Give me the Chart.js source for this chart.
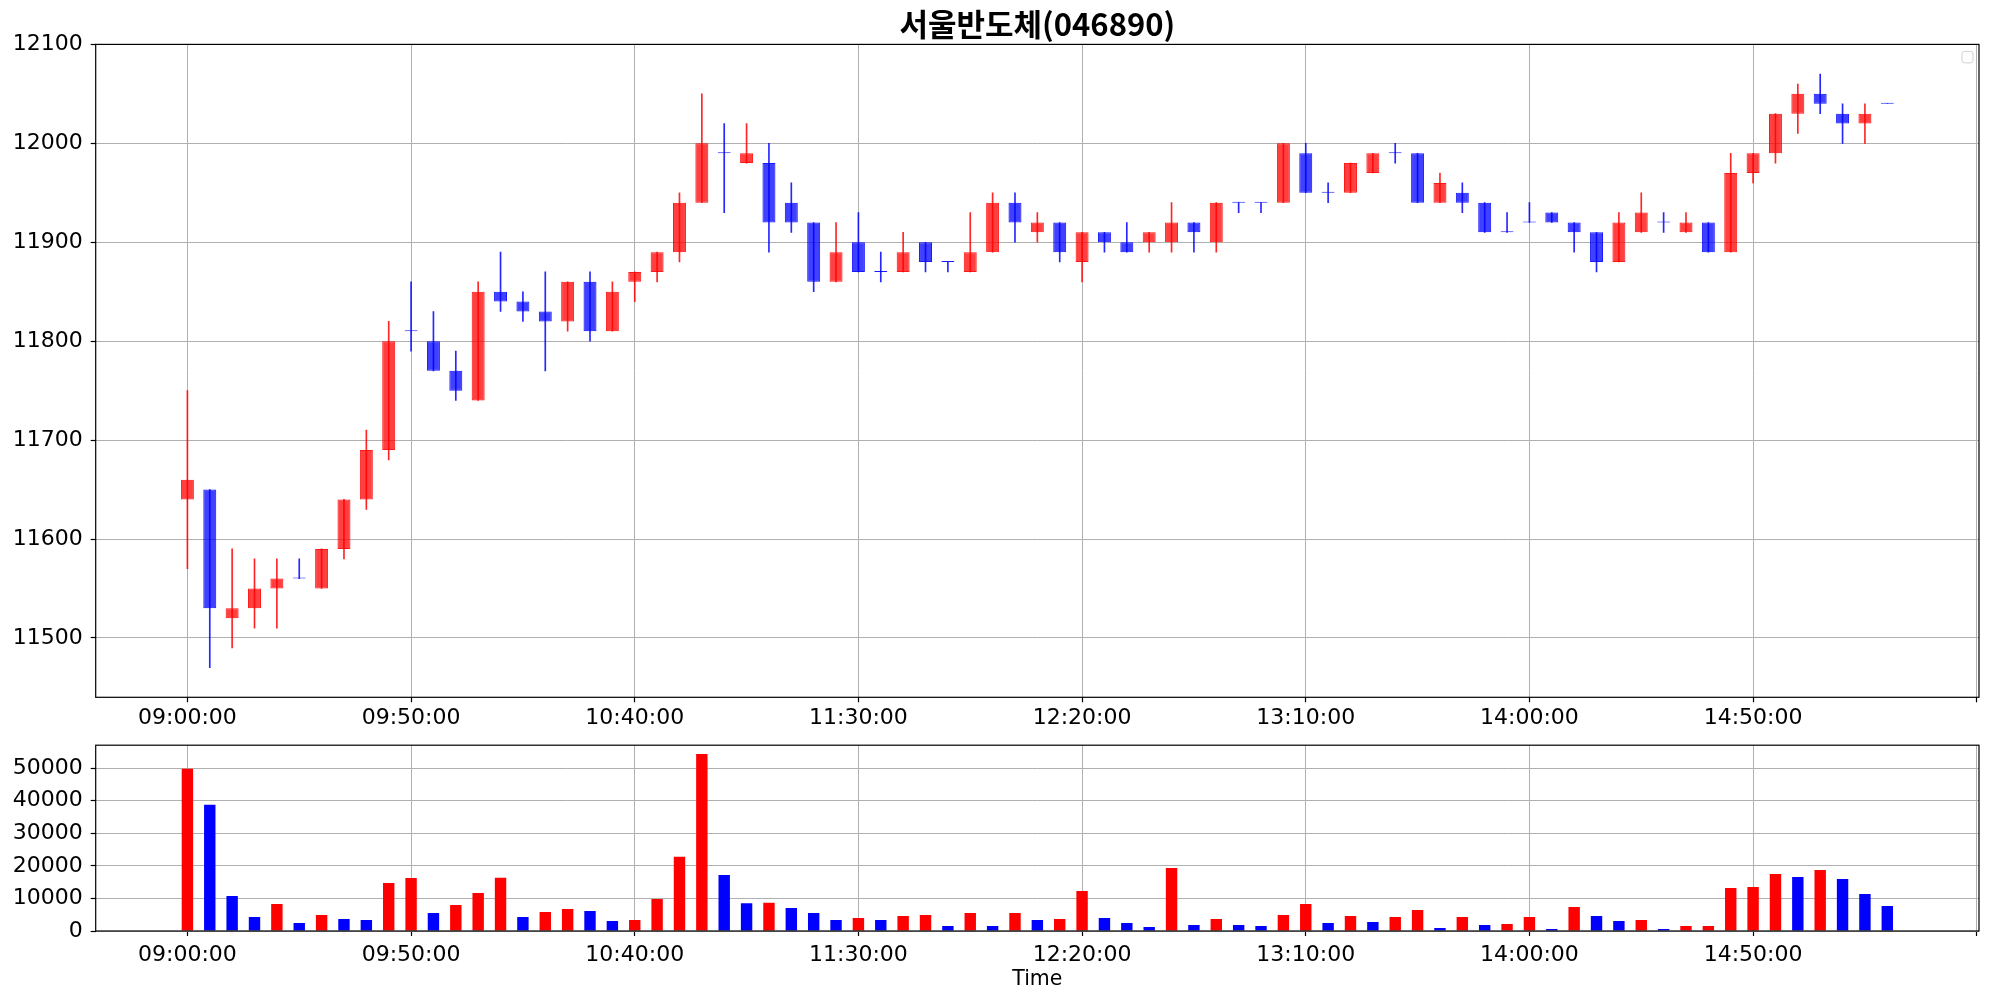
<!DOCTYPE html>
<html>
<head>
<meta charset="utf-8">
<script src="https://cdn.jsdelivr.net/npm/chart.js@4.4.0/dist/chart.umd.min.js"></script>
<style>
	html, body { margin: 0; padding: 0; background: #fff; }
	#wrap { position: relative; width: 1989px; height: 999px; }
	canvas { position: absolute; left: 0; }
	#priceChart { top: 0; }
	#volumeChart { top: 724px; }
</style>
</head>
<body>
<div id="wrap">
	<canvas id="priceChart" width="1989" height="730"></canvas>
	<canvas id="volumeChart" width="1989" height="275"></canvas>
</div>
<script>
// 5분봉 데이터 (09:00 ~ 15:20)
const times = [
	'09:00','09:05','09:10','09:15','09:20','09:25','09:30','09:35','09:40','09:45',
	'09:50','09:55','10:00','10:05','10:10','10:15','10:20','10:25','10:30','10:35',
	'10:40','10:45','10:50','10:55','11:00','11:05','11:10','11:15','11:20','11:25',
	'11:30','11:35','11:40','11:45','11:50','11:55','12:00','12:05','12:10','12:15',
	'12:20','12:25','12:30','12:35','12:40','12:45','12:50','12:55','13:00','13:05',
	'13:10','13:15','13:20','13:25','13:30','13:35','13:40','13:45','13:50','13:55',
	'14:00','14:05','14:10','14:15','14:20','14:25','14:30','14:35','14:40','14:45',
	'14:50','14:55','15:00','15:05','15:10','15:15','15:20'
];
const openPrices = [
	11640,11650,11520,11530,11550,11560,11550,11590,11640,11690,
	11810,11800,11770,11740,11850,11840,11830,11820,11860,11810,
	11860,11870,11890,11940,11990,11980,11980,11940,11920,11860,
	11900,11870,11870,11900,11880,11870,11890,11940,11910,11920,
	11880,11910,11900,11900,11900,11920,11900,11940,11940,11940,
	11990,11950,11950,11970,11990,11990,11940,11950,11940,11910,
	11920,11930,11920,11910,11880,11910,11920,11910,11920,11890,
	11970,11990,12030,12050,12030,12020,12040
];
const highPrices = [
	11750,11650,11590,11580,11580,11580,11590,11640,11710,11820,
	11860,11830,11790,11860,11890,11850,11870,11860,11870,11860,
	11870,11890,11950,12050,12020,12020,12000,11960,11920,11920,
	11930,11890,11910,11900,11880,11930,11950,11950,11930,11920,
	11910,11910,11920,11910,11940,11920,11940,11940,11940,12000,
	12000,11960,11980,11990,12000,11990,11970,11960,11940,11930,
	11940,11930,11920,11910,11930,11950,11930,11930,11920,11990,
	11990,12030,12060,12070,12040,12040,12040
];
const lowPrices = [
	11570,11470,11490,11510,11510,11560,11550,11580,11630,11680,
	11790,11770,11740,11740,11830,11820,11770,11810,11800,11810,
	11840,11860,11880,11940,11930,11980,11890,11910,11850,11860,
	11870,11860,11870,11870,11870,11870,11890,11900,11900,11880,
	11860,11890,11890,11890,11890,11890,11890,11930,11930,11940,
	11950,11940,11950,11970,11980,11940,11940,11930,11910,11910,
	11920,11920,11890,11870,11880,11910,11910,11910,11890,11890,
	11960,11980,12010,12030,12000,12000,12040
];
const closePrices = [
	11660,11530,11530,11550,11560,11560,11590,11640,11690,11800,
	11810,11770,11750,11850,11840,11830,11820,11860,11810,11850,
	11870,11890,11940,12000,11990,11990,11920,11920,11860,11890,
	11870,11870,11890,11880,11880,11890,11940,11920,11920,11890,
	11910,11900,11890,11910,11920,11910,11940,11940,11940,12000,
	11950,11950,11980,11990,11990,11940,11960,11940,11910,11910,
	11920,11920,11910,11880,11920,11930,11920,11920,11890,11970,
	11990,12030,12050,12040,12020,12030,12040
];
const volumes = [
	49800,38700,10760,4300,8300,2460,4920,3690,3380,14750,
	16290,5530,7990,11680,16300,4300,5840,6760,6150,3070,
	3380,9840,22750,54300,17210,8550,8650,7070,5530,3380,
	4000,3380,4610,4920,1540,5530,1540,5530,3380,3690,
	12300,4000,2460,1230,19360,1840,3690,1840,1540,4920,
	8300,2460,4610,2770,4300,6450,920,4300,1840,2150,
	4300,610,7380,4610,3070,3380,610,1500,1560,13220,
	13520,17520,16600,18750,15980,11370,7680
];
const priceTicks = [11500, 11600, 11700, 11800, 11900, 12000, 12100];
const volumeTicks = [0, 10000, 20000, 30000, 40000, 50000];
const xTickPos = [0, 10, 20, 30, 40, 50, 60, 70, 80];
const xTickLabels = ['09:00:00','09:50:00','10:40:00','11:30:00','12:20:00','13:10:00','14:00:00','14:50:00',''];

Chart.defaults.font.family = "'DejaVu Sans', sans-serif";
Chart.defaults.font.size = 22;
Chart.defaults.color = '#000';
Chart.defaults.animation = false;

const AXIS_W = 95.7;
const GRID = '#b0b0b0';

// 상승: 빨강, 하락/보합: 파랑
const upCandle = closePrices.map((c, i) => c > openPrices[i]);
const bodyFill = upCandle.map(u => u ? 'rgba(255,0,0,0.75)' : 'rgba(0,0,255,0.75)');
const bodyLine = upCandle.map(u => u ? 'rgba(255,0,0,0.9)' : 'rgba(0,0,255,0.9)');
const wickColor = upCandle.map(u => u ? 'rgba(255,0,0,0.85)' : 'rgba(0,0,255,0.85)');
// 거래량: 직전 대비 증가면 빨강
const volColor = volumes.map((v, i) => (i === 0 || v > volumes[i - 1]) ? '#ff0000' : '#0000ff');

// 축 테두리
const frame = {
	id: 'frame',
	afterDraw(chart) {
		const a = chart.chartArea, ctx = chart.ctx;
		ctx.save();
		ctx.strokeStyle = '#000';
		ctx.lineWidth = 1.2;
		ctx.strokeRect(a.left, a.top, a.right - a.left, a.bottom - a.top);
		ctx.restore();
	}
};
// 빈 범례 상자
const emptyLegend = {
	id: 'emptyLegend',
	afterDraw(chart) {
		const a = chart.chartArea, ctx = chart.ctx;
		ctx.save();
		ctx.strokeStyle = 'rgba(204,204,204,0.9)';
		ctx.fillStyle = 'rgba(255,255,255,0.8)';
		ctx.lineWidth = 1;
		ctx.beginPath();
		ctx.roundRect(a.right - 17, a.top + 7, 11, 11.5, 2.5);
		ctx.fill();
		ctx.stroke();
		ctx.restore();
	}
};

function xAxis(height, labelPad, title) {
	return {
		type: 'linear',
		min: -4.1,
		max: 80.1,
		offset: false,
		afterBuildTicks: s => { s.ticks = xTickPos.map(v => ({ value: v })); },
		afterFit: s => { s.height = height; },
		ticks: { autoSkip: false, maxRotation: 0, padding: labelPad, callback: (v, i) => xTickLabels[i] },
		grid: { color: GRID, lineWidth: 1, offset: false, tickLength: 5, tickColor: '#000', tickWidth: 1.2 },
		border: { display: false },
		title: title
	};
}

new Chart(document.getElementById('priceChart'), {
	type: 'bar',
	data: {
		datasets: [{
			label: 'body',
			data: times.map((t, i) => ({ x: i, y: [openPrices[i], closePrices[i]] })),
			backgroundColor: bodyFill,
			borderColor: bodyLine,
			borderWidth: 1,
			borderSkipped: false,
			minBarLength: 1,
			barPercentage: 0.58,
			categoryPercentage: 1,
			grouped: false
		}, {
			label: 'wick',
			data: times.map((t, i) => ({ x: i, y: [lowPrices[i], highPrices[i]] })),
			backgroundColor: wickColor,
			borderWidth: 0,
			barThickness: 1,
			grouped: false
		}]
	},
	options: {
		responsive: false,
		layout: { padding: { left: 0, right: 10, top: 0, bottom: 0 } },
		plugins: {
			legend: { display: false },
			tooltip: { enabled: false },
			title: {
				display: true,
				fullSize: false,
				text: '서울반도체(046890)',
				color: '#000',
				font: { family: "'Noto Sans CJK KR', sans-serif", size: 31, weight: 'bold' },
				padding: { top: 5.5, bottom: 1.7 }
			}
		},
		scales: {
			x: xAxis(730 - 697.3, 3, { display: false }),
			y: {
				type: 'linear',
				min: 11440,
				max: 12100,
				afterBuildTicks: s => { s.ticks = priceTicks.map(v => ({ value: v })); },
				afterFit: s => { s.width = AXIS_W; },
				ticks: { padding: 8, callback: v => String(v) },
				grid: { color: GRID, lineWidth: 1, tickLength: 5, tickColor: '#000', tickWidth: 1.2 },
				border: { display: false }
			}
		}
	},
	plugins: [frame, emptyLegend]
});

new Chart(document.getElementById('volumeChart'), {
	type: 'bar',
	data: {
		datasets: [{
			label: 'volume',
			data: times.map((t, i) => ({ x: i, y: volumes[i] })),
			backgroundColor: volColor,
			borderWidth: 0,
			barPercentage: 0.51,
			categoryPercentage: 1,
			grouped: false
		}]
	},
	options: {
		responsive: false,
		layout: { padding: { left: 0, right: 10, top: 0, bottom: 0 } },
		plugins: { legend: { display: false }, tooltip: { enabled: false } },
		scales: {
			x: xAxis(68, 6, { display: true, text: 'Time', font: { size: 20.5 }, padding: { top: 0, bottom: 7.5 } }),
			y: {
				type: 'linear',
				min: 0,
				max: 57000,
				afterBuildTicks: s => { s.ticks = volumeTicks.map(v => ({ value: v })); },
				afterFit: s => { s.width = AXIS_W; },
				ticks: { padding: 8, callback: v => String(v) },
				grid: { color: GRID, lineWidth: 1, tickLength: 5, tickColor: '#000', tickWidth: 1.2 },
				border: { display: false }
			}
		}
	},
	plugins: [frame]
});
</script>
</body>
</html>
